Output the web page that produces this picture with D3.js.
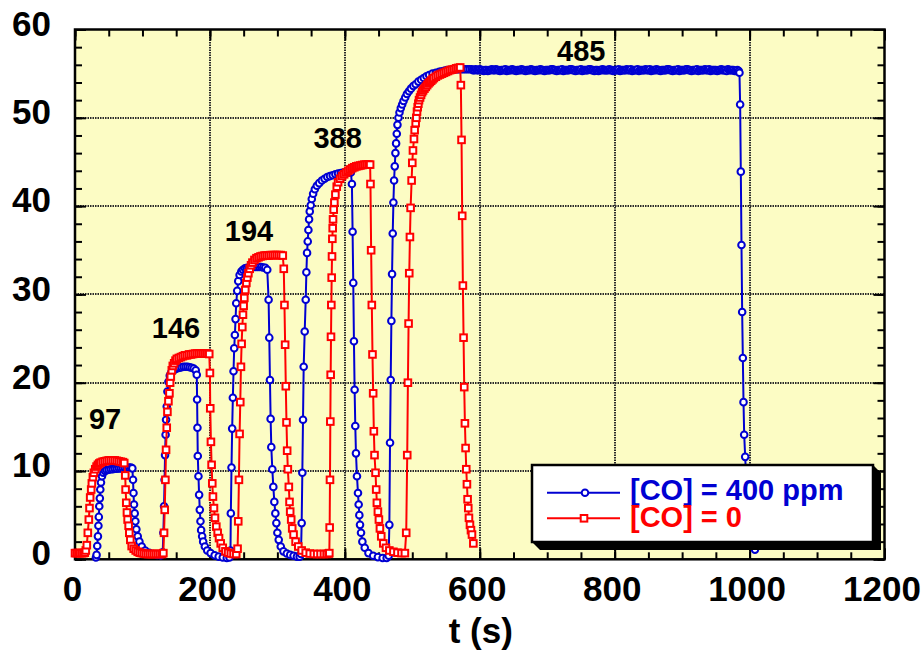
<!DOCTYPE html>
<html>
<head>
<meta charset="utf-8">
<script src="https://cdn.jsdelivr.net/npm/d3@7"></script>
<style>
  html, body { margin: 0; padding: 0; background: #ffffff; }
  svg { display: block; font-family: "Liberation Sans", Arial, Helvetica, sans-serif; font-weight: bold; }
</style>
</head>
<body>
<svg id="chart" width="923" height="653"></svg>
<script>
// Sensor signal vs. time, pulses of gas switched on and off: [time (s), signal]
const co400 = [
  [31,0.2],[32,0.5],[33,1.5],[34,2.6],[34.7,3.8],[35.3,4.8],[36,6.0],[36.8,6.9],[37.5,7.9],[38.5,8.7],
  [40,9.4],[42,9.8],[44.5,10.0],[47,10.1],[50,10.15],[53,10.2],[56,10.2],[59,10.25],[62,10.25],[65,10.3],
  [68,10.3],[71,10.3],[74,10.35],[77,10.35],[80,10.4],[83,10.4],[85,10.3],
  [86,9.0],[86.7,7.5],[87.5,6.2],[88.5,5.2],[89.5,4.3],[91,3.4],[93,2.6],[95.5,2.0],[99,1.45],
  [104,1.0],[110,0.75],[116,0.6],[122,0.5],[127,0.45],
  [130,0.8],[131,3.0],[132,6.0],[132.8,9.0],[133.5,11.8],[134.3,14.1],[135,15.8],[136,17.3],[137,19.0],
  [138.5,20.1],[140.5,20.8],[143,21.2],[146,21.4],[149,21.55],[152,21.65],[155,21.7],[158,21.75],[161,21.8],
  [164,21.8],[167,21.8],[170,21.75],[173,21.7],[176,21.6],[179,21.4],
  [180.5,20.9],[181,18.1],[181.5,14.9],[182,11.7],[183,9.4],[184,7.3],[185,5.6],[186,4.3],[187,3.3],
  [188.5,2.6],[190,2.0],[192.5,1.45],[196,1.0],[201,0.7],[207,0.45],[213,0.3],[219,0.2],[225,0.15],[229,0.2],
  [230.5,1.0],[231,5.2],[232,10.4],[233,14.8],[234,18.3],[235,21.3],[236,23.9],[237,25.4],[238,27.2],[239,29.0],
  [240.5,30.4],[242,31.5],[244,32.2],[246.5,32.6],[249,32.8],[252,32.95],[255,33.0],[258,33.05],[261,33.1],
  [264,33.1],[267,33.1],[270,33.1],[273,33.1],[276,33.1],[279,33.05],[282,33.0],[285,32.8],
  [287,29.4],[288,25.1],[289,20.3],[290,15.9],[291,12.7],[292.5,10.2],[294,8.2],[295.5,6.5],[297,5.2],
  [298.5,4.1],[300,3.0],[302,2.2],[305,1.45],[309,0.9],[314,0.65],[319,0.5],[324,0.4],[329,0.3],[333,0.3],
  [335,0.6],[336,4.1],[337,9.8],[338,15.8],[339,21.8],[340.5,25.8],[342,29.4],[343,32.5],[344,34.7],[345,36.0],
  [346,37.3],[347,38.5],[348,39.4],[349.5,40.1],[351,40.8],[353,41.4],[355.5,41.9],[358.5,42.3],[362,42.6],
  [366,42.9],[370,43.1],[374,43.3],[378,43.4],[382,43.5],[386,43.6],[390,43.7],[394,43.75],[398,43.8],
  [402,43.85],[406,43.85],[409,43.8],
  [410.5,42.5],[411.5,37.1],[412.5,31.3],[413.5,24.7],[414.5,19.2],[415.5,15.1],[416.5,12.0],[418,9.4],
  [419.5,7.5],[420.5,6.2],[421.5,5.0],[422.5,3.9],[424,3.0],[426,2.0],[429.5,1.3],[435,0.7],[442,0.4],
  [449,0.25],[456,0.15],[462,0.15],
  [465,0.4],[466,3.9],[467,13.2],[468,20.3],[469,27.0],[470,32.3],[471,36.9],[472,40.4],[473,42.9],[474,44.5],
  [475,46.0],[476,47.1],[477,48.2],[478,49.2],[479.5,50.0],[481,50.6],[483,51.1],[485,51.5],[487,51.9],
  [489.5,52.3],[492,52.7],[495,53.0],[498,53.3],[501.5,53.6],[505,53.8],[509,54.1],[513,54.3],[517,54.5],
  [521,54.7],[525,54.85],[530,55.0],[535,55.1],[540,55.2],[543,55.25],[546,55.3],[549,55.35],[552,55.4],
  [555,55.4],[558,55.45],[561,55.5],[564,55.5],[567,55.5],[570,55.5],[573,55.5],[576,55.5],[579,55.5],
  [582,55.5],[585,55.5],
  [588,55.5],[590,55.4],[592,55.4],[594,55.5],[596,55.4],[598,55.4],[600,55.5],[602,55.4],[604,55.4],[606,55.3],
  [608,55.4],[610,55.4],[612,55.3],[614,55.4],[616,55.4],[618,55.5],[620,55.4],[622,55.4],[624,55.5],[626,55.4],
  [628,55.4],[630,55.3],[632,55.4],[634,55.4],[636,55.4],[638,55.5],[640,55.3],[642,55.4],[644,55.4],[646,55.4],
  [648,55.5],[650,55.4],[652,55.4],[654,55.3],[656,55.4],[658,55.4],[660,55.4],[662,55.5],[664,55.4],[666,55.4],
  [668,55.3],[670,55.4],[672,55.4],[674,55.4],[676,55.5],[678,55.4],[680,55.4],[682,55.3],[684,55.4],[686,55.4],
  [688,55.4],[690,55.5],[692,55.4],[694,55.4],[696,55.3],[698,55.4],[700,55.4],[702,55.4],[704,55.4],[706,55.5],
  [708,55.5],[710,55.4],[712,55.4],[714,55.3],[716,55.4],[718,55.4],[720,55.4],[722,55.5],[724,55.3],[726,55.4],
  [728,55.4],[730,55.4],[732,55.4],[734,55.5],[736,55.5],[738,55.4],[740,55.4],[742,55.3],[744,55.4],[746,55.4],
  [748,55.4],[750,55.5],[752,55.3],[754,55.4],[756,55.4],[758,55.4],[760,55.4],[762,55.5],[764,55.5],[766,55.4],
  [768,55.4],[770,55.3],[772,55.4],[774,55.4],[776,55.3],[778,55.4],[780,55.4],[782,55.5],[784,55.4],[786,55.4],
  [788,55.4],[790,55.4],[792,55.5],[794,55.4],[796,55.4],[798,55.3],[800,55.4],[802,55.4],[804,55.4],[806,55.5],
  [808,55.3],[810,55.4],[812,55.4],[814,55.4],[816,55.4],[818,55.5],[820,55.4],[822,55.4],[824,55.5],[826,55.3],
  [828,55.4],[830,55.4],[832,55.4],[834,55.5],[836,55.3],[838,55.4],[840,55.4],[842,55.4],[844,55.4],[846,55.5],
  [848,55.4],[850,55.4],[852,55.5],[854,55.3],[856,55.4],[858,55.4],[860,55.4],[862,55.5],[864,55.4],[866,55.4],
  [868,55.3],[870,55.4],[872,55.4],[874,55.4],[876,55.4],[878,55.5],[880,55.5],[882,55.4],[884,55.4],[886,55.3],
  [888,55.4],[890,55.4],[892,55.4],[894,55.5],[896,55.3],[898,55.4],[900,55.4],[902,55.4],[904,55.4],[906,55.5],
  [908,55.5],[910,55.4],[912,55.4],[914,55.3],[916,55.4],[918,55.4],[920,55.4],[922,55.5],[924,55.3],[926,55.4],
  [928,55.4],[930,55.4],[932,55.4],[934,55.5],[936,55.4],[938,55.4],[940,55.5],[942,55.3],[944,55.4],[946,55.4],
  [948,55.4],[950,55.4],[952,55.3],[954,55.4],[956,55.4],[958,55.5],[960,55.4],[962,55.4],[964,55.4],[966,55.3],
  [968,55.5],[970,55.4],[972,55.4],[974,55.4],[976,55.4],[978,55.3],[980,55.3],[982,55.4],[984,55.3],
  [985,55.1],[986,51.5],[987,43.9],[988,35.6],[989,28.0],[990,22.8],[991,17.8],[992,14.1],[993.5,11.6],
  [995,9.0],[996.5,6.8],[998,5.0],[1000,3.6],[1002,2.5],[1004,1.8],[1006,1.4],[1008,1.1]
];

const co0 = [
  [0,0.7],[2.5,0.7],[5,0.7],[7.5,0.7],[10,0.7],[12.5,0.7],[14.5,0.75],
  [16,1.0],[17.5,1.6],[19,3.0],[20.5,4.5],[21.5,5.8],[22.5,7.0],[24,7.9],[25,8.6],[26.5,9.3],[28,9.8],
  [30,10.2],[32,10.5],[34,10.7],[36,10.85],[38,10.95],[41,11.05],[44,11.1],[47,11.15],[50,11.2],[53,11.2],
  [56,11.2],[59,11.2],[62,11.15],[65,11.1],[68,11.05],[71,11.0],[73,10.9],
  [74.5,9.5],[75,7.9],[76,6.4],[77,5.3],[78,4.5],[79.5,3.8],[80.5,3.0],[82,2.2],[84,1.5],[87,1.2],[90,1.0],
  [93,0.85],[96,0.75],[99,0.7],[102,0.65],[105,0.6],[108,0.6],[111,0.6],[114,0.6],[117,0.6],[120,0.6],
  [123,0.6],[126,0.6],[129,0.6],
  [131,0.7],[132,3.0],[133,5.6],[134,9.0],[135,12.4],[136,14.9],[137,16.7],[138.5,17.9],[140,18.8],[141,20.0],
  [142,20.7],[143.5,21.4],[145,21.9],[147,22.2],[149,22.5],[151,22.7],[154,22.8],[157,22.9],[160,23.0],
  [163,23.1],[166,23.1],[169,23.2],[172,23.2],[175,23.25],[178,23.3],[181,23.3],[184,23.3],[187,23.3],
  [190,23.3],[193,23.3],[196,23.3],[199,23.25],
  [200,21.1],[200.5,17.1],[201.5,13.3],[202.5,10.7],[203.5,8.6],[204.5,7.1],[206,5.8],[207.5,4.7],[209.5,3.7],
  [211.5,3.0],[213.5,2.4],[216,1.8],[219,1.3],[223,0.9],[227,0.75],[231,0.65],[235,0.6],[239,0.6],
  [241,1.2],[242,4.3],[243,9.0],[244,14.2],[245,17.8],[246,21.8],[247,24.4],[248,26.3],[249,27.7],[250,28.7],
  [251,29.6],[252.5,30.5],[254,31.3],[255.5,31.9],[257,32.4],[259,32.9],[261,33.3],[263,33.6],[266,33.9],
  [269,34.1],[272,34.2],[275,34.3],[278,34.35],[281,34.4],[284,34.4],[287,34.4],[290,34.45],[293,34.45],
  [296,34.45],[299,34.45],[302,34.45],[305,34.45],[308,34.4],
  [309.5,32.9],[310.5,28.8],[311.5,24.3],[312.5,19.6],[313.5,15.5],[314.5,12.3],[315.5,10.2],[317,8.2],
  [318,6.5],[319,5.4],[320.5,4.5],[322,3.5],[324,2.8],[327,2.0],[331,1.45],[336,1.0],[342,0.75],[348,0.65],
  [354,0.6],[359,0.6],[364,0.6],[369,0.6],[373,0.6],[376,0.65],
  [377,0.7],[377.5,3.6],[378,9.0],[378.5,15.6],[379,20.9],[379.5,25.2],[380,28.8],[380.5,31.9],[381,34.3],
  [381.5,36.3],[382,37.5],[382.5,38.5],[383.5,39.6],[384.5,40.4],[386,41.3],[388,42.2],[390,42.7],[393,43.1],
  [396,43.4],[399,43.6],[402,43.8],[405,44.0],[408,44.15],[411,44.3],[414,44.4],[417,44.5],[420,44.55],
  [423,44.6],[426,44.65],[429,44.7],[432,44.7],[435,44.7],[437.5,44.7],
  [438,42.5],[439,35.0],[440,28.8],[441,23.2],[442,18.8],[443,14.5],[444,11.8],[445.5,9.8],[446.5,7.9],
  [447.5,6.4],[449,5.4],[450.5,4.5],[452,3.5],[454,2.6],[457,1.8],[461,1.3],[466,1.0],[472,0.85],[478,0.75],
  [484,0.7],[489,0.7],
  [491,3.0],[492.5,11.8],[493.5,20.0],[494.5,26.7],[495.5,32.4],[496.5,36.5],[497.5,39.8],[499,42.9],
  [500,44.9],[501,46.3],[502.5,47.6],[503.5,48.6],[505,49.4],
  [506,50.0],[507,50.7],[508,51.2],[509,51.6],[510,52.0],[511.5,52.3],[513,52.6],[514.5,52.9],[516,53.1],
  [518,53.3],[520,53.5],[522,53.7],[524,53.9],[526,54.05],[528,54.2],[530,54.35],[532,54.5],[535,54.65],
  [538,54.8],[541,54.9],[544,55.0],[547,55.1],[550,55.2],[553,55.3],[556,55.4],[559,55.45],[562,55.5],
  [565,55.6],[568,55.65],[571,55.7],
  [572,53.7],[573,47.5],[574,38.9],[575,31.0],[576,25.1],[577,19.5],[578,15.4],[579,12.6],[580,10.2],
  [581,8.5],[582,6.8],[583,5.8],[584,4.7],[585.5,3.9],[587,3.3],[588.5,2.8],[590.5,1.8]
];

const xTicks = [0, 200, 400, 600, 800, 1000, 1200];
const yTicks = [0, 10, 20, 30, 40, 50, 60];
const xMinorTicks = d3.range(0, 1201, 50);
const yMinorTicks = d3.range(0, 61, 2);

const seriesNames = ["[CO] = 400 ppm", "[CO] = 0"];
const pulseLabels = ["97", "146", "194", "388", "485"];
// where each pulse label sits, in axis units (time, signal)
const pulseLabelAnchors = [[44.5, 14.7], [149.8, 25.1], [258, 36.0], [389.3, 46.6], [750.5, 56.4]];

const BLUE = "#0000d2";
const RED = "#ff0000";

const svg = d3.select("#chart");
const plotL = 75, plotR = 884.5, plotT = 29.5, plotB = 559.3;

const x = d3.scaleLinear().domain([0, 1200]).range([plotL, plotR]);
const y = d3.scaleLinear().domain([0, 60]).range([plotB, plotT]);

// plot background
svg.append("rect")
  .attr("x", plotL).attr("y", plotT)
  .attr("width", plotR - plotL).attr("height", plotB - plotT)
  .attr("fill", "#fcfcc4");

// dotted grid at the major ticks, snapped to whole pixels
const grid = svg.append("g").attr("stroke", "#2a2a2a").attr("stroke-width", 2).attr("stroke-dasharray", "1.5,1");
grid.selectAll("line.gx").data(xTicks.slice(1, -1)).join("line")
  .attr("x1", d => Math.round(x(d))).attr("x2", d => Math.round(x(d))).attr("y1", plotT).attr("y2", plotB);
grid.selectAll("line.gy").data(yTicks.slice(1, -1)).join("line")
  .attr("x1", plotL).attr("x2", plotR).attr("y1", d => Math.round(y(d))).attr("y2", d => Math.round(y(d)));

// inward ticks on all four sides
function tickAxis(axis, transform) {
  const g = svg.append("g").attr("transform", transform).call(axis);
  g.select(".domain").remove();
  g.selectAll("line").attr("stroke", "#000").attr("stroke-width", 2);
  return g;
}
const noLabel = () => "";
tickAxis(d3.axisBottom(x).tickValues(xMinorTicks).tickSizeInner(-7).tickSizeOuter(0).tickFormat(noLabel), `translate(0,${plotB})`);
tickAxis(d3.axisTop(x).tickValues(xMinorTicks).tickSizeInner(-7).tickSizeOuter(0).tickFormat(noLabel), `translate(0,${plotT})`);
tickAxis(d3.axisLeft(y).tickValues(yMinorTicks).tickSizeInner(-7).tickSizeOuter(0).tickFormat(noLabel), `translate(${plotL},0)`);
tickAxis(d3.axisRight(y).tickValues(yMinorTicks).tickSizeInner(-7).tickSizeOuter(0).tickFormat(noLabel), `translate(${plotR},0)`);
tickAxis(d3.axisTop(x).tickValues(xTicks).tickSizeInner(-11).tickSizeOuter(0).tickFormat(noLabel), `translate(0,${plotT})`);
tickAxis(d3.axisRight(y).tickValues(yTicks).tickSizeInner(-11).tickSizeOuter(0).tickFormat(noLabel), `translate(${plotR},0)`);

// labelled axes
const xAxis = tickAxis(d3.axisBottom(x).tickValues(xTicks).tickSizeInner(-11).tickSizeOuter(0).tickPadding(17).tickFormat(d3.format("d")), `translate(0,${plotB})`);
xAxis.selectAll("text").attr("font-size", 35).attr("font-weight", "bold").attr("fill", "#000")
  .attr("font-family", "Liberation Sans, Arial, sans-serif").attr("dx", -3);
const yAxis = tickAxis(d3.axisLeft(y).tickValues(yTicks).tickSizeInner(-11).tickSizeOuter(0).tickPadding(24).tickFormat(d3.format("d")), `translate(${plotL},0)`);
yAxis.selectAll("text").attr("font-size", 35).attr("font-weight", "bold").attr("fill", "#000")
  .attr("font-family", "Liberation Sans, Arial, sans-serif").attr("dy", "0.16em");

// frame
svg.append("rect")
  .attr("x", plotL).attr("y", plotT)
  .attr("width", plotR - plotL).attr("height", plotB - plotT)
  .attr("fill", "none").attr("stroke", "#000").attr("stroke-width", 2.5);

// series
const line = d3.line().x(d => x(d[0])).y(d => y(d[1]));
const SQ = 6.6, CR = 3.3, SW = 2;

function drawSeries(data, color, shape) {
  const g = svg.append("g");
  g.append("path").datum(data).attr("d", line)
    .attr("fill", "none").attr("stroke", color).attr("stroke-width", 2).attr("stroke-linejoin", "round");
  if (shape === "circle") {
    g.selectAll("circle").data(data).join("circle")
      .attr("cx", d => x(d[0])).attr("cy", d => y(d[1])).attr("r", CR)
      .attr("fill", "#fff").attr("stroke", color).attr("stroke-width", SW);
  } else {
    g.selectAll("rect").data(data).join("rect")
      .attr("x", d => x(d[0]) - SQ / 2).attr("y", d => y(d[1]) - SQ / 2)
      .attr("width", SQ).attr("height", SQ)
      .attr("fill", "#fff").attr("stroke", color).attr("stroke-width", SW);
  }
}
drawSeries(co400, BLUE, "circle");
drawSeries(co0, RED, "square");

// pulse labels
svg.append("g").selectAll("text").data(pulseLabels).join("text")
  .attr("x", (d, i) => x(pulseLabelAnchors[i][0]))
  .attr("y", (d, i) => y(pulseLabelAnchors[i][1]))
  .attr("text-anchor", "middle").attr("font-size", 29).attr("fill", "#000")
  .text(d => d);

// axis title
svg.append("text").attr("x", (plotL + plotR) / 2 + 1).attr("y", 643)
  .attr("text-anchor", "middle").attr("font-size", 35).attr("fill", "#000").text("t (s)");

// legend with extruded shadow
const lg = { x: 532, y: 465, w: 341, h: 77, d: 8 };
svg.append("polygon")
  .attr("points", [
    [lg.x, lg.y + lg.h], [lg.x + lg.d, lg.y + lg.h + lg.d], [lg.x + lg.w + lg.d, lg.y + lg.h + lg.d],
    [lg.x + lg.w + lg.d, lg.y + lg.d], [lg.x + lg.w, lg.y]
  ].map(p => p.join(",")).join(" "))
  .attr("fill", "#000");
svg.append("rect").attr("x", lg.x).attr("y", lg.y).attr("width", lg.w).attr("height", lg.h)
  .attr("fill", "#fff").attr("stroke", "#000").attr("stroke-width", 2.5);

const legendRows = [
  { name: seriesNames[0], color: BLUE, shape: "circle", lineY: 492.7, textY: 499.5 },
  { name: seriesNames[1], color: RED, shape: "square", lineY: 518.3, textY: 526.5 }
];
legendRows.forEach(r => {
  svg.append("line").attr("x1", 547).attr("x2", 620).attr("y1", r.lineY).attr("y2", r.lineY)
    .attr("stroke", r.color).attr("stroke-width", 2);
  if (r.shape === "circle") {
    svg.append("circle").attr("cx", 585).attr("cy", r.lineY).attr("r", CR)
      .attr("fill", "#fff").attr("stroke", r.color).attr("stroke-width", SW);
  } else {
    svg.append("rect").attr("x", 584 - SQ / 2).attr("y", r.lineY - SQ / 2).attr("width", SQ).attr("height", SQ)
      .attr("fill", "#fff").attr("stroke", r.color).attr("stroke-width", SW);
  }
  svg.append("text").attr("x", 630).attr("y", r.textY).attr("font-size", 29).attr("fill", r.color).text(r.name);
});
</script>
</body>
</html>
